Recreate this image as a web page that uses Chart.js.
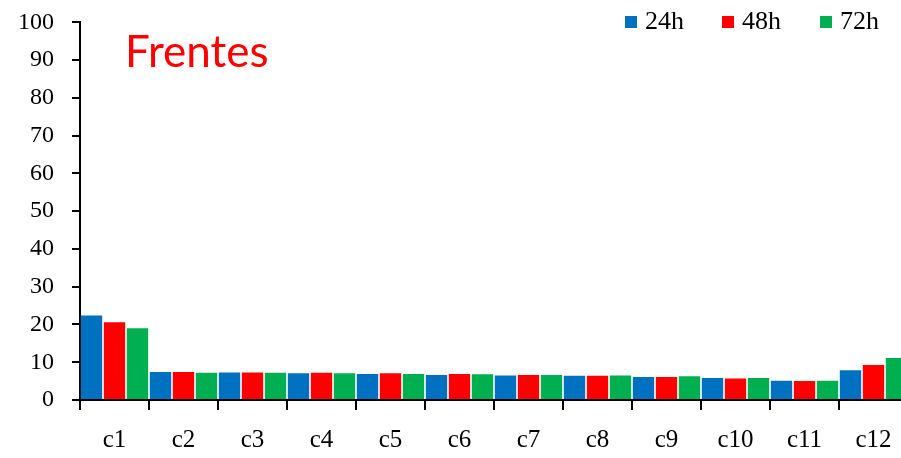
<!DOCTYPE html>
<html>
<head>
<meta charset="utf-8">
<script src="https://cdn.jsdelivr.net/npm/chart.js@4"></script>
<style>
  html, body { margin: 0; padding: 0; overflow: hidden; background: #fff; }
  #wrap { width: 908px; height: 468px; margin-top: -10px; }
</style>
</head>
<body>
<div id="wrap"><canvas id="bars" width="908" height="468"></canvas></div>
<script>
const categories = ['c1', 'c2', 'c3', 'c4', 'c5', 'c6', 'c7', 'c8', 'c9', 'c10', 'c11', 'c12'];
const serie24h = [22.4, 7.4, 7.3, 7.1, 6.9, 6.6, 6.5, 6.4, 6.1, 5.8, 5.1, 7.9];
const serie48h = [20.6, 7.4, 7.3, 7.2, 7.1, 6.9, 6.6, 6.4, 6.1, 5.7, 5.0, 9.3];
const serie72h = [19.0, 7.2, 7.2, 7.1, 6.9, 6.8, 6.6, 6.5, 6.3, 5.8, 5.1, 11.1];
const seriesLabels = ['24h', '48h', '72h'];
const yTicks = [0, 10, 20, 30, 40, 50, 60, 70, 80, 90, 100];
const chartTitle = 'Frentes';

const colors = ['#0070c0', '#ff0000', '#00b050'];
const serifFont = '"Liberation Serif", "DejaVu Serif", serif';
const shift = 10; // el lienzo sube 10px con el margen negativo

// titulo y leyenda dibujados encima del area del grafico
const overlay = {
  id: 'overlay',
  afterDraw(chart) {
    const ctx = chart.ctx;
    ctx.save();
    ctx.fillStyle = '#ff0000';
    ctx.font = '44px Lato, "Open Sans", sans-serif';
    ctx.textBaseline = 'alphabetic';
    ctx.textAlign = 'left';
    ctx.fillText(chartTitle, 125, 67 + shift);

    ctx.font = '26px ' + serifFont;
    ctx.textBaseline = 'middle';
    const xs = [625, 722, 820];
    chart.data.datasets.forEach((ds, i) => {
      ctx.fillStyle = ds.backgroundColor;
      ctx.fillRect(xs[i], 16 + shift, 12, 12);
      ctx.fillStyle = '#000';
      ctx.fillText(ds.label, xs[i] + 20, 22 + shift);
    });
    ctx.restore();
  }
};

const barConfig = {
  type: 'bar',
  data: {
    labels: categories,
    datasets: [
      { label: seriesLabels[0], backgroundColor: colors[0], data: serie24h },
      { label: seriesLabels[1], backgroundColor: colors[1], data: serie48h },
      { label: seriesLabels[2], backgroundColor: colors[2], data: serie72h },
    ],
  },
  options: {
    responsive: false,
    animation: false,
    layout: { padding: { top: 9, right: 0, left: 0, bottom: 0 } },
    datasets: { bar: { categoryPercentage: 1.0, barPercentage: 0.93 } },
    plugins: {
      legend: { display: false },
      tooltip: { enabled: false },
    },
    scales: {
      x: {
        grid: { drawOnChartArea: false, drawTicks: true, tickLength: 10, color: '#000', lineWidth: 2, offset: true },
        border: { display: true, color: '#000', width: 2 },
        ticks: { color: '#000', font: { family: serifFont, size: 25 }, padding: 15, maxRotation: 0 },
        afterFit(scale) { scale.height = 58; },
      },
      y: {
        min: 0,
        max: 100,
        afterBuildTicks(scale) { scale.ticks = yTicks.map(v => ({ value: v })); },
        grid: { drawOnChartArea: false, drawTicks: true, tickLength: 8, color: '#000', lineWidth: 2 },
        border: { display: true, color: '#000', width: 2 },
        ticks: { color: '#000', font: { family: serifFont, size: 24 }, padding: 18 },
        afterFit(scale) { scale.width = 80; },
      },
    },
  },
  plugins: [overlay],
};

const barsCtx = document.getElementById('bars');
window.myBar = new Chart(barsCtx, barConfig);
</script>
</body>
</html>
